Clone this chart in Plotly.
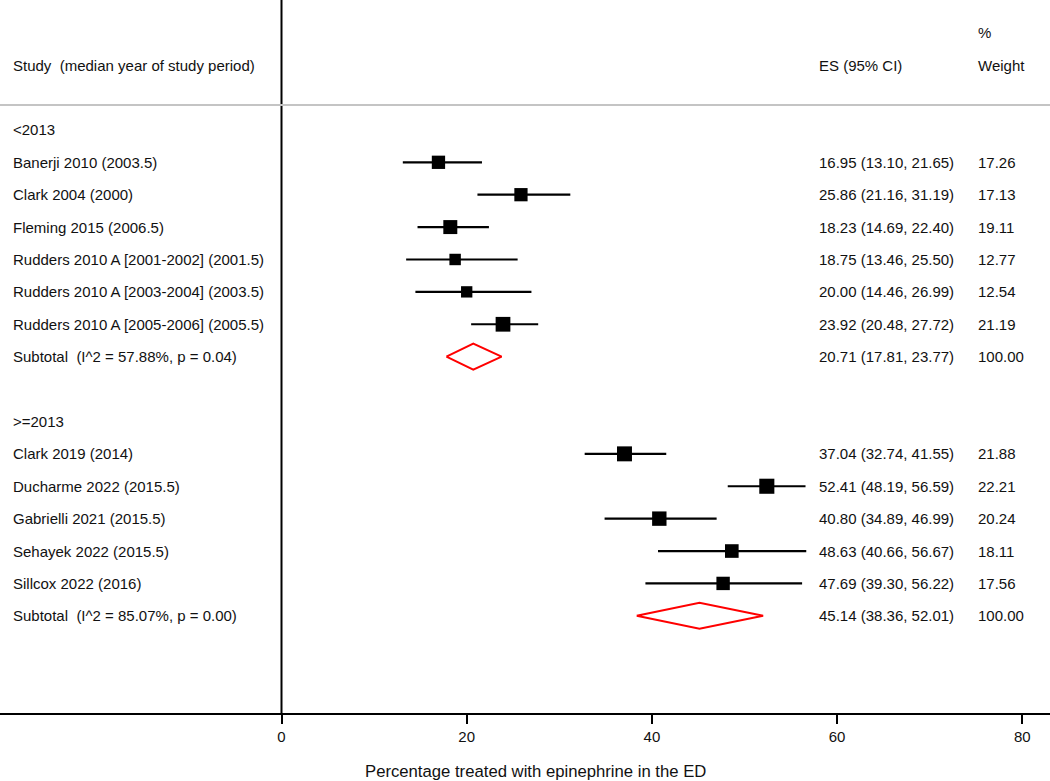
import plotly.graph_objects as go

# ---- data ----
group1_label = "<2013"
group1_studies = ["Banerji 2010 (2003.5)", "Clark 2004 (2000)", "Fleming 2015 (2006.5)",
                  "Rudders 2010 A [2001-2002] (2001.5)", "Rudders 2010 A [2003-2004] (2003.5)",
                  "Rudders 2010 A [2005-2006] (2005.5)"]
group1_es = [16.95, 25.86, 18.23, 18.75, 20.00, 23.92]
group1_lo = [13.10, 21.16, 14.69, 13.46, 14.46, 20.48]
group1_hi = [21.65, 31.19, 22.40, 25.50, 26.99, 27.72]
group1_w = [17.26, 17.13, 19.11, 12.77, 12.54, 21.19]
group1_sub_label = "Subtotal  (I^2 = 57.88%, p = 0.04)"
group1_sub = [20.71, 17.81, 23.77, 100.00]

group2_label = ">=2013"
group2_studies = ["Clark 2019 (2014)", "Ducharme 2022 (2015.5)", "Gabrielli 2021 (2015.5)",
                  "Sehayek 2022 (2015.5)", "Sillcox 2022 (2016)"]
group2_es = [37.04, 52.41, 40.80, 48.63, 47.69]
group2_lo = [32.74, 48.19, 34.89, 40.66, 39.30]
group2_hi = [41.55, 56.59, 46.99, 56.67, 56.22]
group2_w = [21.88, 22.21, 20.24, 18.11, 17.56]
group2_sub_label = "Subtotal  (I^2 = 85.07%, p = 0.00)"
group2_sub = [45.14, 38.36, 52.01, 100.00]

x_ticks = [0, 20, 40, 60, 80]
x_title = "Percentage treated with epinephrine in the ED"
header_study = "Study  (median year of study period)"
header_es = "ES (95% CI)"
header_w1 = "%"
header_w2 = "Weight"

# ---- layout helpers ----
W, H = 1050, 781
FONT = "Liberation Sans, Arial, sans-serif"
FS = 15
X_TEXT = 11 / W
X_ES = 817 / W
X_WT = 976 / W

fig = go.Figure()
annotations = []
shapes = []


def txt(x, y, s, size=FS):
    annotations.append(dict(x=x, y=y, xref="paper", yref="y", text=s, showarrow=False,
                            xanchor="left", yanchor="middle",
                            font=dict(family=FONT, size=size, color="#111")))


row = 0
for label, studies, es, lo, hi, w, sublab, sub in [
    (group1_label, group1_studies, group1_es, group1_lo, group1_hi, group1_w, group1_sub_label, group1_sub),
    (group2_label, group2_studies, group2_es, group2_lo, group2_hi, group2_w, group2_sub_label, group2_sub),
]:
    txt(X_TEXT, row, label)
    row += 1
    ys = []
    for i, s in enumerate(studies):
        txt(X_TEXT, row, s)
        txt(X_ES, row, f"{es[i]:.2f} ({lo[i]:.2f}, {hi[i]:.2f})")
        txt(X_WT, row, f"{w[i]:.2f}")
        fig.add_trace(go.Scatter(x=[lo[i], hi[i]], y=[row, row], mode="lines",
                                 line=dict(color="black", width=2.2), showlegend=False,
                                 hoverinfo="skip"))
        ys.append(row)
        row += 1
    fig.add_trace(go.Scatter(x=es, y=ys, mode="markers",
                             marker=dict(symbol="square", color="black", opacity=1,
                                         size=[3.2 * (v ** 0.5) for v in w],
                                         line=dict(width=0)),
                             showlegend=False))
    # subtotal diamond
    txt(X_TEXT, row, sublab)
    txt(X_ES, row, f"{sub[0]:.2f} ({sub[1]:.2f}, {sub[2]:.2f})")
    txt(X_WT, row, f"{sub[3]:.2f}")
    dh = 0.4
    fig.add_trace(go.Scatter(x=[sub[1], sub[0], sub[2], sub[0], sub[1]],
                             y=[row, row - dh, row, row + dh, row],
                             mode="lines", line=dict(color="red", width=2),
                             showlegend=False, hoverinfo="skip"))
    row += 2

# headers
txt(X_TEXT, -2, header_study)
txt(X_ES, -2, header_es)
txt(X_WT, -3, header_w1)
txt(X_WT, -2, header_w2)

# axis title
annotations.append(dict(x=535 / W, y=-(771 - 713) / 713, xref="paper", yref="paper", text=x_title,
                        showarrow=False, xanchor="center", yanchor="middle",
                        font=dict(family=FONT, size=16.7, color="#111")))

Y_TOP, Y_BOT = -4.01, 18
shapes.append(dict(type="line", xref="x", yref="y", x0=0, x1=0, y0=Y_TOP, y1=Y_BOT,
                   line=dict(color="black", width=2)))
shapes.append(dict(type="line", xref="paper", yref="y", x0=0, x1=1, y0=-0.77, y1=-0.77,
                   line=dict(color="#c4c4c4", width=2)))

px_per_unit = 9.26
x0_px = 281.5
fig.update_layout(
    width=W, height=H, plot_bgcolor="white", paper_bgcolor="white",
    margin=dict(l=0, r=0, t=0, b=68),
    xaxis=dict(range=[-x0_px / px_per_unit, (W - x0_px) / px_per_unit],
               tickvals=x_ticks, ticktext=[str(t) for t in x_ticks],
               ticks="outside", ticklen=9, tickwidth=2, tickcolor="black",
               showline=True, linecolor="black", linewidth=2, showgrid=False,
               zeroline=False, tickfont=dict(family=FONT, size=15, color="#111")),
    yaxis=dict(range=[Y_BOT, Y_TOP], visible=False, showgrid=False, zeroline=False),
    annotations=annotations, shapes=shapes,
)

fig.write_html("out.html", config={"displayModeBar": False},
               post_script="document.body.style.margin='0';document.body.style.overflow='hidden';")
